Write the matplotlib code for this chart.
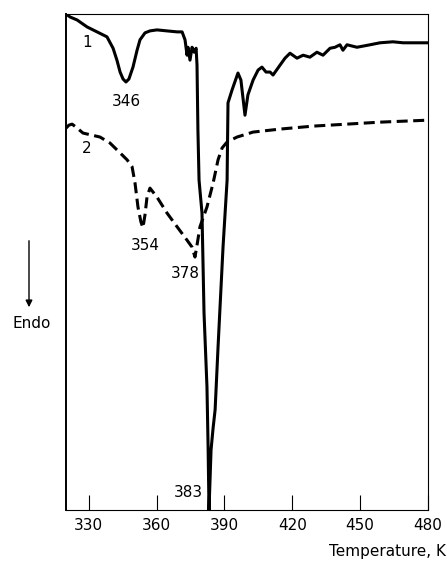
import numpy as np
import matplotlib.pyplot as plt

# curve 1 (solid): temperature (K) and signal (arb. units)
t1 = [320.0, 321.8, 324.9, 329.3, 333.7, 338.1, 340.8, 342.5, 343.9, 345.2,
      346.5, 347.8, 349.6, 351.4, 352.7, 354.9, 357.1, 360.2, 364.6, 369.1,
      371.3, 372.6, 373.5, 373.9, 374.8, 375.7, 376.6, 377.5, 377.9, 378.3,
      378.8, 380.1, 381.0, 382.3, 382.8, 383.2, 384.1, 385.0, 385.9, 387.2,
      389.4, 391.2, 391.4, 391.6, 393.4, 396.0, 397.3, 399.1, 400.4, 402.7,
      404.9, 406.6, 408.4, 410.2, 411.5, 414.6, 416.8, 419.0, 422.1, 424.8,
      427.8, 430.9, 433.6, 436.7, 438.9, 441.1, 442.4, 444.2, 448.6, 454.4,
      458.8, 464.5, 469.0, 473.4, 480.0]
s1 = [100.0, 99.4, 98.8, 97.4, 96.4, 95.4, 93.1, 90.7, 88.3, 86.9,
      86.3, 86.9, 89.3, 92.7, 94.8, 96.2, 96.6, 96.8, 96.6, 96.4,
      96.4, 94.8, 91.7, 93.3, 90.7, 93.3, 92.3, 93.1, 89.7, 76.6,
      66.5, 59.9, 39.7, 24.8, 12.7, 0.0, 12.1, 16.5, 20.2, 32.9,
      53.0, 66.5, 74.6, 82.1, 84.7, 88.1, 86.7, 79.6, 83.7, 86.7,
      88.7, 89.3, 88.3, 88.3, 87.7, 89.7, 91.1, 92.1, 91.1, 91.7,
      91.3, 92.3, 91.7, 93.1, 93.3, 93.8, 92.7, 93.8, 93.3, 93.8,
      94.2, 94.4, 94.2, 94.2, 94.2]

# curve 2 (dashed)
t2 = [320.0, 321.3, 322.7, 324.4, 327.5, 335.0, 339.4, 343.9, 347.0, 349.2,
      350.5, 351.8, 353.1, 354.0, 354.9, 355.8, 357.1, 360.2, 364.6, 369.1,
      373.5, 375.7, 377.0, 377.9, 379.2, 382.3, 385.0, 387.2, 389.0, 391.2,
      395.6, 402.7, 414.6, 429.2, 444.2, 458.8, 480.0]
s2 = [77.0, 77.6, 77.8, 77.2, 76.0, 75.2, 74.0, 72.0, 70.6, 69.2,
      65.9, 61.1, 58.1, 56.9, 59.5, 63.1, 64.9, 63.1, 59.9, 57.1,
      54.4, 53.0, 51.0, 53.4, 57.1, 61.1, 65.9, 70.6, 73.0, 74.2,
      75.2, 76.2, 76.8, 77.4, 77.8, 78.2, 78.6]

xticks = [330, 360, 390, 420, 450, 480]

# peak labels: text, x, y
peak_labels = ['346', '354', '378', '383']
peak_x = [346.5, 354.9, 372.6, 374.2]
peak_y = [82.3, 53.4, 47.6, 3.6]

fig = plt.figure(figsize=(4.47, 5.61), dpi=100)
ax = fig.add_axes([0.1477, 0.0909, 0.8098, 0.8841])

ax.plot(t1, s1, color='black', lw=2.2, solid_joinstyle='round')
ax.plot(t2, s2, color='black', lw=2.2, linestyle=(0, (3.6, 1.8)))

ax.set_xlim(320, 480)
ax.set_ylim(0, 100)

ax.set_xticks(xticks)
ax.tick_params(axis='x', direction='in', length=11, width=0.8, pad=6,
               labelsize=11)
ax.set_yticks([])
for s in ['top', 'right', 'bottom']:
    ax.spines[s].set_linewidth(0.8)
ax.spines['left'].set_linewidth(1.4)

ax.text(329.3, 94.2, '1', fontsize=11, ha='center', va='center')
ax.text(329.3, 72.8, '2', fontsize=11, ha='center', va='center')
for lab, x, y in zip(peak_labels, peak_x, peak_y):
    ax.text(x, y, lab, fontsize=11, ha='center', va='center')

fig.text(0.9975, 0.004, 'Temperature, K', fontsize=11, ha='right',
         va='bottom')

# Endo arrow
fig.patches.append(plt.matplotlib.patches.FancyArrowPatch(
    (29 / 447, 1 - 238 / 561), (29 / 447, 1 - 310 / 561),
    transform=fig.transFigure, arrowstyle='-|>', mutation_scale=10,
    color='black', lw=1.0))
fig.text(32 / 447, 1 - 323 / 561, 'Endo', fontsize=11, ha='center',
         va='center')

fig.savefig('out.png', dpi=100)
